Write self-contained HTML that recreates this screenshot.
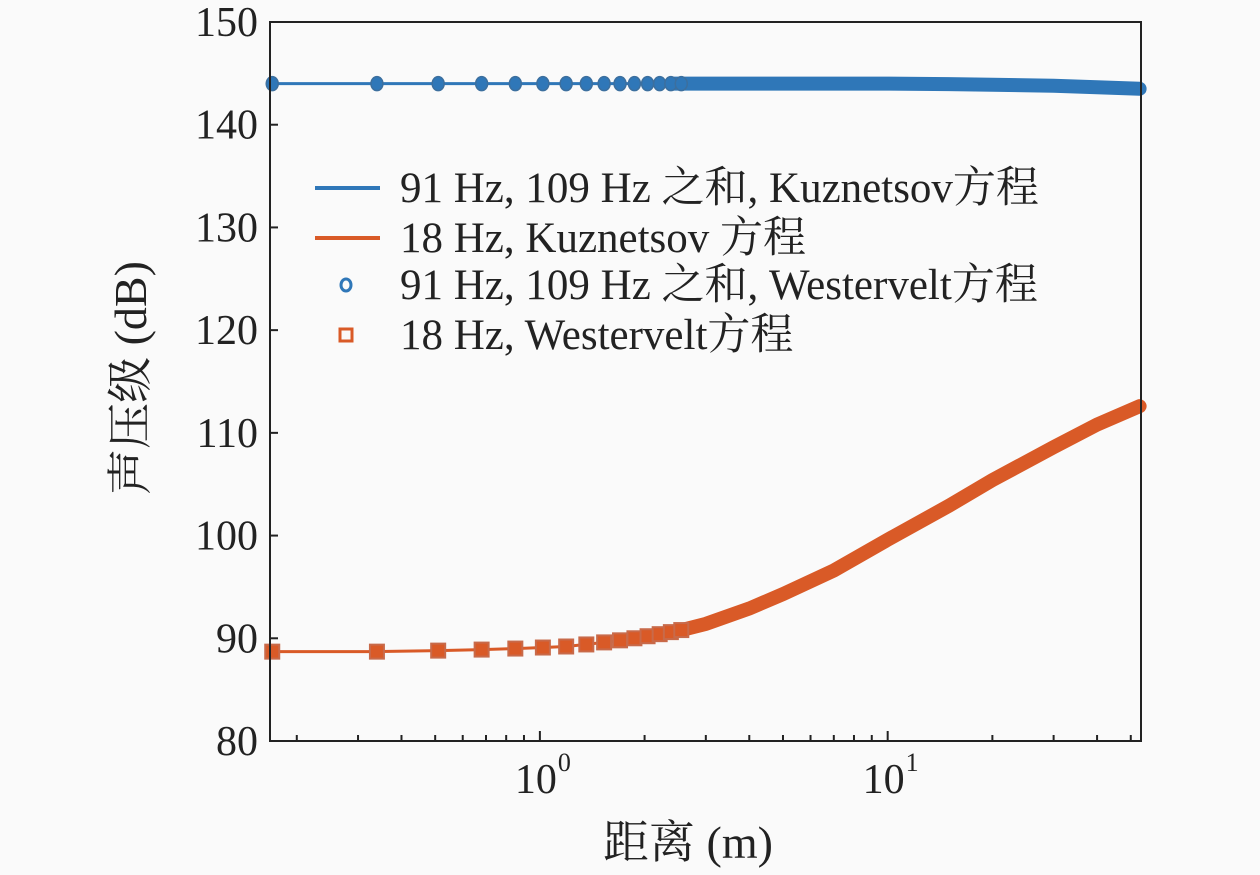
<!DOCTYPE html>
<html><head><meta charset="utf-8"><style>
body{margin:0;background:#fafafa}
svg text{font-family:"Liberation Serif","Noto Serif CJK SC","Noto Sans CJK SC",serif;fill:#222}
</style></head><body>
<svg id="chart" width="1260" height="870" viewBox="0 0 1260 870" xmlns="http://www.w3.org/2000/svg">
<rect x="0" y="0" width="1260" height="870" fill="#fafafa"/>
<g id="plot"></g>
<text x="688" y="858" text-anchor="middle" font-size="46">距离 (m)</text>
<text transform="translate(146,378) rotate(-90)" text-anchor="middle" font-size="46">声压级 (dB)</text>
<g>
 <line x1="315" x2="380" y1="188" y2="188" stroke="#2f77b8" stroke-width="4"/>
 <text x="400" y="202" font-size="43">91 Hz, 109 Hz 之和, Kuznetsov方程</text>
 <line x1="315" x2="380" y1="238" y2="238" stroke="#d95a27" stroke-width="4"/>
 <text x="400" y="252" font-size="43">18 Hz, Kuznetsov 方程</text>
 <ellipse cx="346" cy="285" rx="5" ry="6" fill="none" stroke="#2f77b8" stroke-width="3"/>
 <text x="400" y="299" font-size="43">91 Hz, 109 Hz 之和, Westervelt方程</text>
 <rect x="340" y="329" width="12" height="12" fill="none" stroke="#d95a27" stroke-width="3"/>
 <text x="400" y="349" font-size="43">18 Hz, Westervelt方程</text>
</g>
</svg>
<script>
const distances=[0.17,0.34,0.51,0.68,0.85,1.02,1.19,1.36,1.53,1.7,1.87,2.04,2.21,2.38,2.55,3,4,5,7,10,15,20,30,40,53];
const sumLevels=[144,144,144,144,144,144,144,144,144,144,144,144,144,144,144,144,144,144,144,144,143.95,143.9,143.8,143.65,143.5];
const lowLevels=[88.7,88.7,88.8,88.9,89.0,89.1,89.2,89.4,89.6,89.8,90.0,90.2,90.4,90.6,90.8,91.4,92.9,94.3,96.6,99.6,102.9,105.4,108.6,110.8,112.6];
const yTicks=[80,90,100,110,120,130,140,150];
const xTickLabels=["0","1"];
const L=270,R=1141,T=22,B=741;
const xMin=0.1675,xMax=53.5,yMin=80,yMax=150;
const sx=v=>L+(Math.log10(v)-Math.log10(xMin))/(Math.log10(xMax)-Math.log10(xMin))*(R-L);
const sy=v=>B-(v-yMin)/(yMax-yMin)*(B-T);
const NS="http://www.w3.org/2000/svg";
const g=document.getElementById('plot');
function mk(t,a){const e=document.createElementNS(NS,t);for(const k in a)e.setAttribute(k,a[k]);g.appendChild(e);return e;}
function pathOf(arr,from){let d="";for(let i=from;i<distances.length;i++)d+=(d?"L":"M")+sx(distances[i]).toFixed(1)+","+sy(arr[i]).toFixed(1);return d;}
const series=[{vals:sumLevels,c:"#2f77b8",name:"sum"},{vals:lowLevels,c:"#d95a27",name:"18hz"}];
series.forEach(function(s){
 var e=mk('path',{d:pathOf(s.vals,0),stroke:s.c,'stroke-width':3,fill:'none'});
 
 
 e=mk('path',{d:pathOf(s.vals,13),stroke:s.c,'stroke-width':14,fill:'none','stroke-linecap':'round'});
 
 
 for(var i=0;i<15;i++){
  var x=sx(distances[i]),y=sy(s.vals[i]);
  if(s.name==="sum"){e=mk('ellipse',{cx:x,cy:y,rx:6,ry:7,fill:s.c,stroke:'#3c6f9e','stroke-width':1.5});}
  else{e=mk('rect',{x:x-7,y:y-7,width:14,height:14,fill:s.c,stroke:'#c86a4a','stroke-width':2});}
  
  
 }
});
var fr=mk('rect',{x:L,y:T,width:R-L,height:B-T,fill:'none',stroke:'#222','stroke-width':2});


yTicks.forEach(function(v){
 var e=mk('line',{x1:L,x2:L+8,y1:sy(v),y2:sy(v),stroke:'#222','stroke-width':2});
 
 
 e=mk('text',{x:L-12,y:sy(v)+14,'text-anchor':'end','font-size':42});
 e.textContent=v;
 
 
});
for(var d=-1;d<=1;d++)for(var m=1;m<=9;m++){
 var v=m*Math.pow(10,d);if(v<xMin||v>xMax)continue;
 var e=mk('line',{x1:sx(v),x2:sx(v),y1:B,y2:B-(m===1?10:6),stroke:'#222','stroke-width':2});
 
 
}
xTickLabels.forEach(function(p,i){
 var x=sx(Math.pow(10,i));
 var e=mk('text',{x:x-4,y:B+52,'text-anchor':'middle','font-size':42});
 e.textContent="10";
 
 
 e=mk('text',{x:x+18,y:B+30,'text-anchor':'start','font-size':26});
 e.textContent=p;
 
 
});
</script>
</body></html>
